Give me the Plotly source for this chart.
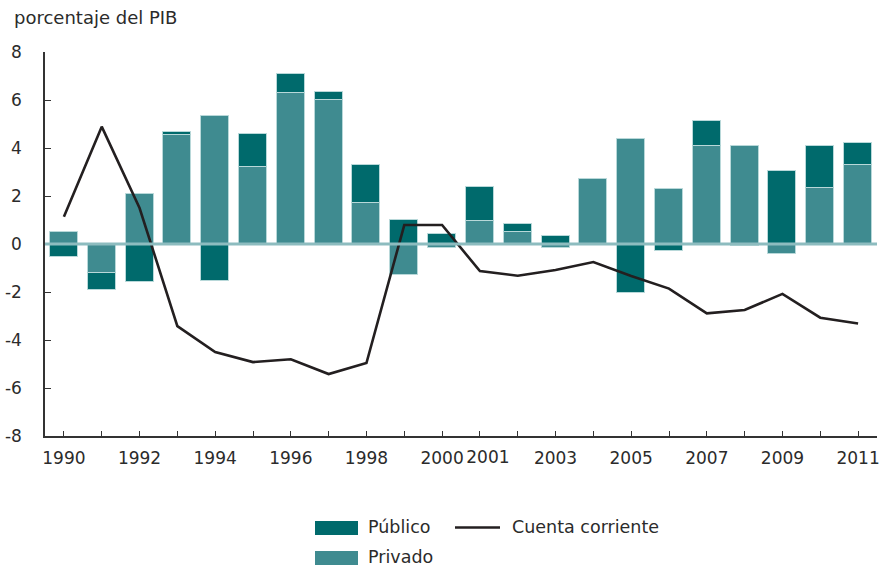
import plotly.graph_objects as go

years = list(range(1990, 2012))
privado = [0.5, -1.2, 2.1, 4.55, 5.33, 3.2, 6.3, 6.0, 1.7, -1.3, -0.17, 0.96, 0.5, -0.17,
           2.69, 4.36, 2.28, 4.08, 4.08, -0.42, 2.33, 3.29]
publico = [-0.55, -0.7, -1.6, 0.1, -1.54, 1.4, 0.78, 0.35, 1.6, 1.0, 0.42, 1.43, 0.33, 0.35,
           0.0, -2.03, -0.29, 1.06, -0.1, 3.06, 1.75, 0.9]
cuenta = [1.14, 4.89, 1.5, -3.42, -4.5, -4.92, -4.8, -5.42, -4.96, 0.79, 0.79, -1.13, -1.32,
          -1.08, -0.75, -1.33, -1.86, -2.89, -2.75, -2.08, -3.07, -3.31]
tick_labels = {1990: "1990", 1992: "1992", 1994: "1994", 1996: "1996", 1998: "1998",
               2000: "2000", 2003: "2003", 2005: "2005",
               2007: "2007", 2009: "2009", 2011: "2011"}
shifted_labels = {2001: "2001"}
y_ticks = [8, 6, 4, 2, 0, -2, -4, -6, -8]

C_PUB = "#006a6c"
C_PRIV = "#3f8b90"
C_LINE = "#231f20"
C_TXT = "#2b2b2b"
FONT = "DejaVu Sans"

W, H = 880, 568
L, R, T, B = 45, 3, 52, 132
PW, PH = W - L - R, H - T - B

def px(x):
    return (x - L) / PW

def py(y):
    return (H - B - y) / PH

fig = go.Figure()
fig.add_trace(go.Bar(x=years, y=privado, name="Privado", marker_color=C_PRIV,
                     marker_line=dict(color="#b8d8d9", width=1), width=0.74,
                     showlegend=False))
fig.add_trace(go.Bar(x=years, y=publico, name="Público", marker_color=C_PUB,
                     marker_line=dict(color="#b8d8d9", width=1), width=0.74,
                     showlegend=False))
fig.add_shape(type="line", xref="paper", yref="y", x0=0, x1=1, y0=0, y1=0,
              line=dict(color="#8dbcbf", width=3), layer="above")
fig.add_trace(go.Scatter(x=years, y=cuenta, mode="lines", name="Cuenta corriente",
                         line=dict(color=C_LINE, width=2.6), showlegend=False,
                         xaxis="x2"))

# manual legend
legend_font = dict(family=FONT, size=17.5, color=C_TXT)
fig.add_shape(type="rect", xref="paper", yref="paper", x0=px(315), x1=px(358),
              y0=py(535), y1=py(521), fillcolor=C_PUB, line=dict(width=0))
fig.add_shape(type="rect", xref="paper", yref="paper", x0=px(315), x1=px(358),
              y0=py(565), y1=py(551), fillcolor=C_PRIV, line=dict(width=0))
fig.add_shape(type="line", xref="paper", yref="paper", x0=px(455), x1=px(500),
              y0=py(527.5), y1=py(527.5), line=dict(color=C_LINE, width=2.6))
for txt, x0, y0 in [("Público", 366, 527), ("Privado", 366, 557), ("Cuenta corriente", 510, 527)]:
    fig.add_annotation(text=txt, xref="paper", yref="paper", x=px(x0), y=py(y0),
                       xanchor="left", yanchor="middle", showarrow=False, font=legend_font)

fig.add_annotation(text="porcentaje del PIB", xref="paper", yref="paper",
                   x=px(12), y=py(17), xanchor="left", yanchor="middle",
                   showarrow=False, font=dict(family=FONT, size=18, color=C_TXT))

fig.update_layout(
    width=W, height=H, margin=dict(l=L, r=R, t=T, b=B),
    plot_bgcolor="white", paper_bgcolor="white",
    barmode="relative", bargap=0,
    font=dict(family=FONT, size=17, color=C_TXT),
    showlegend=False,
    xaxis2=dict(overlaying="x", side="bottom", range=[1989.5, 2011.5],
                tickmode="array", tickvals=list(shifted_labels.keys()),
                ticktext=list(shifted_labels.values()), ticks="", showline=False,
                showgrid=False, zeroline=False, tickangle=0, automargin=False,
                ticklabelstandoff=9, ticklabelshift=8),
)
fig.layout.xaxis.update(range=[1989.5, 2011.5], tickmode="array", tickvals=years,
                 ticktext=[tick_labels.get(y, "") for y in years],
                 ticks="inside", ticklen=5, tickcolor="#333", tickwidth=1,
                 showline=True, linecolor="#333", linewidth=1.5, tickangle=0,
                 automargin=False, showgrid=False, zeroline=False, ticklabelstandoff=6)
fig.update_yaxes(range=[-8, 8], tickmode="array", tickvals=y_ticks,
                 ticktext=[str(v) for v in y_ticks],
                 ticks="inside", ticklen=6, tickcolor="#333", tickwidth=1,
                 showline=True, linecolor="#333", linewidth=1.5, automargin=False,
                 showgrid=False, zeroline=False, ticklabelstandoff=18)

fig.write_html("out.html", config={"displayModeBar": False})
with open("out.html", "r", encoding="utf-8") as f:
    html = f.read()
html = html.replace("<body>", '<body style="margin:0;padding:0;overflow:hidden">', 1)
with open("out.html", "w", encoding="utf-8") as f:
    f.write(html)
